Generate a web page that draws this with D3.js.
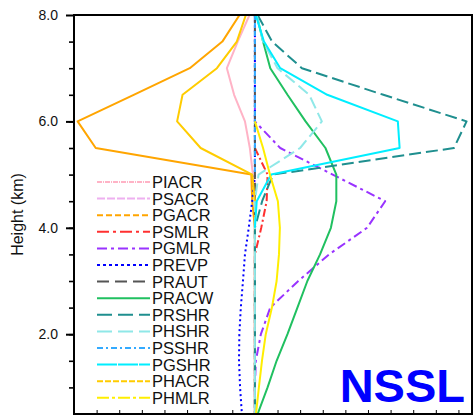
<!DOCTYPE html>
<html>
<head>
<meta charset="utf-8">
<script src="https://cdn.jsdelivr.net/npm/d3@7"></script>
<style>
  body { margin: 0; background: #fff; }
  svg text { font-family: "Liberation Sans", Arial, sans-serif; }
</style>
</head>
<body>
<div id="chart"></div>
<script>
// heights of the model levels (km)
const heights = [8.0, 7.5, 7.0, 6.5, 6.0, 5.5, 5.0, 4.5, 4.0, 3.5, 3.0, 2.5, 2.0, 1.5, 1.0, 0.5];

// process rates (null = not plotted at that level)
const PIACR = [-0.03, -0.095, -0.155, -0.115, -0.055, -0.028, -0.011, 0, 0, 0, 0, 0, 0, 0, 0, 0];
const PSACR = [0, 0, 0, 0, 0, 0, 0, 0, 0, 0, 0, 0, 0, 0, 0, 0];
const PGACR = [-0.085, -0.18, -0.36, -0.67, -0.98, -0.88, -0.02, -0.015, 0, 0, 0, 0, 0, 0, 0, 0];
const PSMLR = [null, null, null, null, null, 0, 0.07, 0.065, 0.035, 0, 0, 0, 0, 0, 0, 0];
const PGMLR = [null, null, null, 0, 0, 0.14, 0.43, 0.72, 0.62, 0.41, 0.24, 0.085, 0.033, 0.005, 0, 0];
const PREVP = [0, 0, 0, 0, 0, 0, 0, -0.015, -0.034, -0.055, -0.066, -0.078, -0.086, -0.088, -0.082, -0.072];
const PRAUT = [0, 0, 0, 0, 0, 0, 0, 0, 0, 0, 0, 0, 0, 0, 0, 0];
const PRACW = [0.01, 0.045, 0.085, 0.18, 0.28, 0.39, 0.45, 0.45, 0.42, 0.36, 0.29, 0.235, 0.18, 0.12, 0.07, 0.015];
const PRSHR = [0.015, 0.095, 0.26, 0.71, 1.17, 1.10, 0.10, 0.04, 0, 0, 0, 0, 0, 0, 0, 0];
const PHSHR = [0.01, 0.045, 0.125, 0.30, 0.37, 0.25, 0.02, 0, 0, 0, 0, 0, 0, 0, 0, 0];
const PSSHR = [0, 0, 0, 0, 0, 0, 0, null, null, null, null, null, null, null, null, null];
const PGSHR = [0.005, 0.05, 0.14, 0.40, 0.79, 0.80, 0.09, 0.01, 0, null, null, null, null, null, null, null];
const PHACR = [-0.05, -0.10, -0.21, -0.40, -0.43, -0.30, -0.015, 0, null, null, null, null, null, null, null, null];
const PHMLR = [null, null, null, null, 0, 0.045, 0.083, 0.127, 0.138, 0.133, 0.12, 0.094, 0.06, 0.039, 0.022, 0.006];

const names = ['PIACR', 'PSACR', 'PGACR', 'PSMLR', 'PGMLR', 'PREVP', 'PRAUT',
  'PRACW', 'PRSHR', 'PHSHR', 'PSSHR', 'PGSHR', 'PHACR', 'PHMLR'];
const values = [PIACR, PSACR, PGACR, PSMLR, PGMLR, PREVP, PRAUT,
  PRACW, PRSHR, PHSHR, PSSHR, PGSHR, PHACR, PHMLR];

const yTickLabels = ['2.0', '4.0', '6.0', '8.0'];

// line styles: color, plot dash, legend dash
const styles = {
  PIACR: { color: '#ffb3c6', dash: null, key: '5,1,1,1' },
  PSACR: { color: '#eeb0f0', dash: '8,3', key: '8,2' },
  PGACR: { color: '#ffa500', dash: null, key: '6,3' },
  PSMLR: { color: '#ff3030', dash: '8,3,2,3', key: '12,4,3,4' },
  PGMLR: { color: '#9933ff', dash: '9,4,3,4', key: '10,4,3,4' },
  PREVP: { color: '#0000ff', dash: '2,3', key: '3,3' },
  PRAUT: { color: '#555555', dash: '8,4', key: '12,6' },
  PRACW: { color: '#20c060', dash: null, key: null },
  PRSHR: { color: '#1f8f8f', dash: '12,5', key: '15,6' },
  PHSHR: { color: '#8fe8e8', dash: '12,5', key: '15,6' },
  PSSHR: { color: '#33aaff', dash: '5,3', key: '6,3,2,3' },
  PGSHR: { color: '#00eeff', dash: null, key: '20,1' },
  PHACR: { color: '#ffcc00', dash: null, key: '6,2' },
  PHMLR: { color: '#ffee00', dash: null, key: '12,3,3,3' }
};

const width = 475;
const height = 415;
const margin = { top: 15, right: 3, bottom: 1, left: 74 };

const svg = d3.select('#chart')
  .append('svg')
  .attr('width', width)
  .attr('height', height);

const x = d3.scaleLinear()
  .domain([-1.0, 1.2])
  .range([margin.left, width - margin.right]);

const y = d3.scaleLinear()
  .domain([0.5, 8.0])
  .range([height - margin.bottom, margin.top]);

// y axis: minor ticks every 0.5 km, labelled majors every 2 km
svg.append('g')
  .attr('transform', `translate(${margin.left},0)`)
  .call(d3.axisLeft(y).tickValues(d3.range(1.0, 8.0, 0.5)).tickSize(5).tickFormat(''))
  .call(g => g.select('.domain').remove())
  .call(g => g.selectAll('line').attr('stroke', '#000').attr('stroke-width', 1.6));

svg.append('g')
  .attr('transform', `translate(${margin.left},0)`)
  .call(d3.axisLeft(y).tickValues(yTickLabels.map(Number)).tickSize(8).tickPadding(8)
    .tickFormat((d, i) => yTickLabels[i]))
  .call(g => g.select('.domain').remove())
  .call(g => g.selectAll('line').attr('stroke', '#000').attr('stroke-width', 2))
  .call(g => g.selectAll('text')
    .style('font-size', '14px')
    .style('fill', '#111'));

// small ticks along the bottom
svg.append('g')
  .attr('transform', `translate(0,${y(0.5) - 1})`)
  .call(d3.axisBottom(x).tickValues(d3.range(-1.0, 1.2001, 0.125)).tickSize(-3).tickFormat(''))
  .call(g => g.select('.domain').remove())
  .call(g => g.selectAll('line').attr('stroke', '#000').attr('stroke-width', 1));

svg.append('text')
  .attr('transform', `translate(23,${(y(0.5) + y(8.0)) / 2}) rotate(-90)`)
  .attr('text-anchor', 'middle')
  .style('font-size', '16px')
  .style('fill', '#111')
  .text('Height (km)');

// profiles
const line = d3.line()
  .defined(d => d.v !== null)
  .x(d => x(d.v))
  .y(d => y(d.h));

svg.append('clipPath').attr('id', 'plot-clip')
  .append('rect')
  .attr('x', x(-1.0))
  .attr('y', y(8.0))
  .attr('width', x(1.2) - x(-1.0))
  .attr('height', y(0.5) - y(8.0));

svg.append('g')
  .attr('clip-path', 'url(#plot-clip)')
  .selectAll('path')
  .data(names)
  .join('path')
  .attr('d', (n, i) => line(heights.map((h, j) => ({ h, v: values[i][j] }))))
  .attr('fill', 'none')
  .attr('stroke', n => styles[n].color)
  .attr('stroke-width', 2)
  .attr('stroke-linejoin', 'round')
  .attr('stroke-dasharray', n => styles[n].dash);

// frame
svg.append('rect')
  .attr('x', x(-1.0))
  .attr('y', y(8.0))
  .attr('width', x(1.2) - x(-1.0))
  .attr('height', y(0.5) - y(8.0))
  .attr('fill', 'none')
  .attr('stroke', '#000')
  .attr('stroke-width', 2);

// legend
const legend = svg.append('g')
  .selectAll('g')
  .data(names)
  .join('g')
  .attr('transform', (n, i) => `translate(97,${182 + i * 16.6})`);

legend.append('line')
  .attr('x1', 0)
  .attr('x2', 53)
  .attr('stroke', n => styles[n].color)
  .attr('stroke-width', 2)
  .attr('stroke-dasharray', n => styles[n].key);

legend.append('text')
  .attr('x', 55)
  .attr('dy', '0.36em')
  .style('font-size', '16.5px')
  .style('fill', '#111')
  .text(n => n);

svg.append('text')
  .attr('x', 465)
  .attr('y', 402)
  .attr('text-anchor', 'end')
  .style('font-size', '47px')
  .style('font-weight', 'bold')
  .style('fill', '#0000ff')
  .text('NSSL');
</script>
</body>
</html>
